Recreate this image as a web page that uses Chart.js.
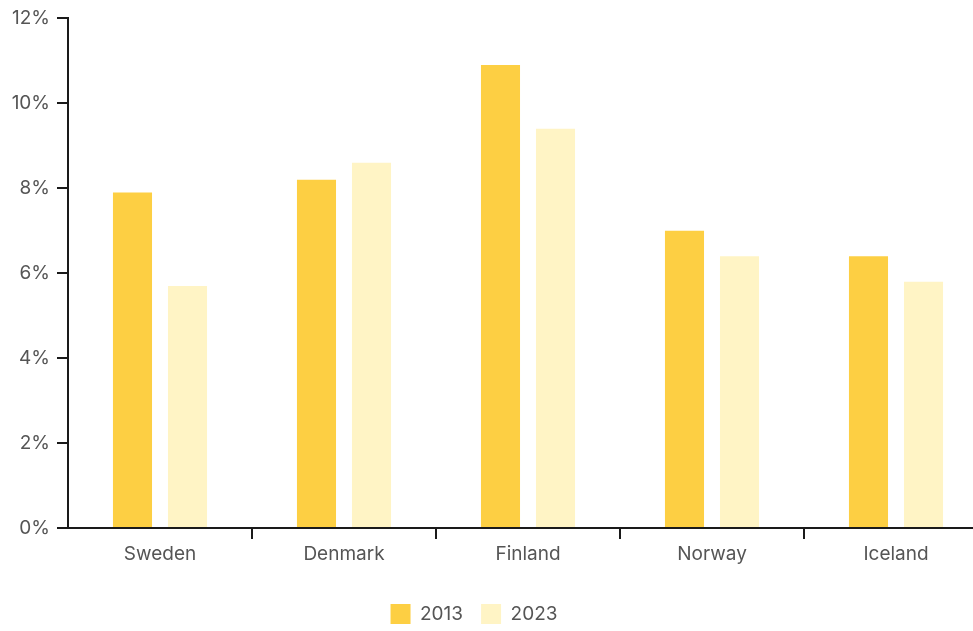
<!DOCTYPE html>
<html>
<head>
<meta charset="utf-8">
<script src="https://cdn.jsdelivr.net/npm/chart.js@4/dist/chart.umd.min.js"></script>
<style>
    html, body { margin: 0; padding: 0; background: #fff; }
    #wrap { width: 973px; height: 631px; overflow: hidden; }
</style>
</head>
<body>
<div id="wrap">
    <canvas id="grafico" width="988" height="631"></canvas>
</div>
<script>
// Dados do gráfico
const paises = ['Sweden', 'Denmark', 'Finland', 'Norway', 'Iceland'];
const valores2013 = [7.9, 8.2, 10.9, 7.0, 6.4];
const valores2023 = [5.7, 8.6, 9.4, 6.4, 5.8];
const ticksY = [0, 2, 4, 6, 8, 10, 12];

const corTexto = '#555555';
const corEixo = '#1a1a1a';

// Ajuste fino da posição da legenda
const ajusteLegenda = {
    id: 'ajusteLegenda',
    afterLayout(chart) {
        const leg = chart.legend;
        leg.left -= 20; leg.right -= 20;
        leg.top += 3; leg.bottom += 3;
    }
};

Chart.defaults.font.family = 'Inter, "Open Sans", sans-serif';
Chart.defaults.font.size = 19;
Chart.defaults.color = corTexto;

const ctx = document.getElementById('grafico').getContext('2d');
const grafico = new Chart(ctx, {
    type: 'bar',
    data: {
        labels: paises,
        datasets: [
            {
                label: '2013',
                data: valores2013,
                backgroundColor: '#FDCF43',
                categoryPercentage: 0.598,
                barPercentage: 0.71
            },
            {
                label: '2023',
                data: valores2023,
                backgroundColor: '#FFF4C5',
                categoryPercentage: 0.598,
                barPercentage: 0.71
            }
        ]
    },
    options: {
        responsive: false,
        animation: false,
        devicePixelRatio: 1,
        layout: { padding: { top: 8, left: 0, right: 0, bottom: 0 } },
        plugins: {
            legend: {
                position: 'bottom',
                labels: {
                    boxWidth: 20,
                    boxHeight: 20,
                    padding: 18,
                    color: corTexto,
                    font: { size: 19 }
                }
            },
            tooltip: { enabled: false }
        },
        scales: {
            x: {
                grid: {
                    offset: true,
                    drawOnChartArea: false,
                    drawTicks: true,
                    tickLength: 11,
                    lineWidth: 2,
                    color: c => c.index === 0 ? 'rgba(0,0,0,0)' : corEixo
                },
                border: { display: true, color: corEixo, width: 2 },
                ticks: { padding: 4, color: corTexto },
                afterFit: s => { s.height = 55; }
            },
            y: {
                min: 0,
                max: 12,
                afterBuildTicks: s => { s.ticks = ticksY.map(v => ({ value: v })); },
                grid: {
                    drawOnChartArea: false,
                    drawTicks: true,
                    tickLength: 11,
                    lineWidth: 2,
                    color: corEixo
                },
                border: { display: true, color: corEixo, width: 2 },
                ticks: {
                    padding: 7,
                    color: corTexto,
                    callback: v => v + '%'
                },
                afterFit: s => { s.width = 68; }
            }
        }
    },
    plugins: [ajusteLegenda]
});
</script>
</body>
</html>
